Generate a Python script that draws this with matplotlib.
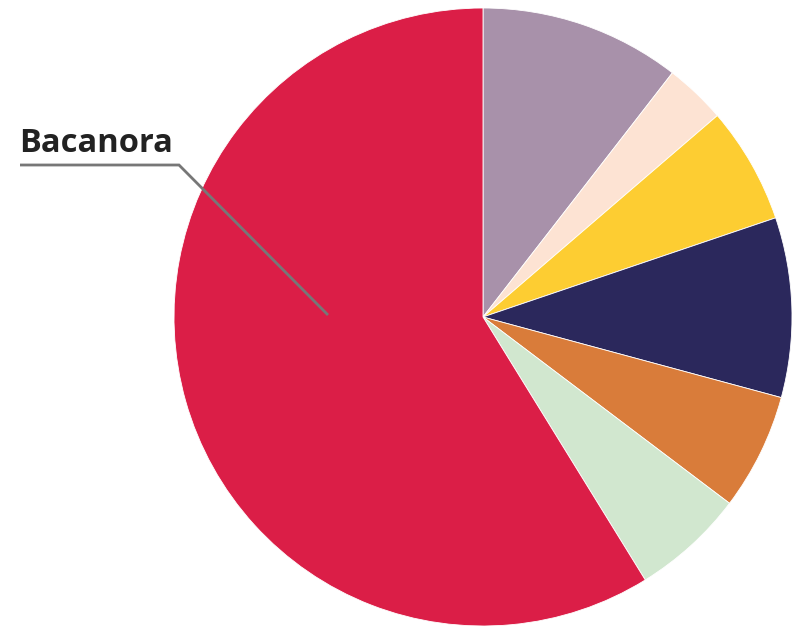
import matplotlib
matplotlib.use("Agg")
import matplotlib.pyplot as plt

categories = ["Cat A", "Cat B", "Cat C", "Cat D", "Cat E", "Cat F", "Bacanora"]
values = [10.5, 3.2, 6.1, 9.4, 6.1, 5.9, 58.8]
colors = ["#a891aa", "#fde3d3", "#fdcd32", "#2b285c", "#d97c3a", "#d1e7cf", "#db1e47"]
label_text = "Bacanora"

W, H = 793, 626
fig = plt.figure(figsize=(W / 100, H / 100), dpi=100)
ax = fig.add_axes([0, 0, 1, 1])
cx, cy, r = 483, H - 317, 309
ax.pie(values, colors=colors, startangle=90, counterclock=False,
       center=(cx, cy), radius=r,
       wedgeprops=dict(linewidth=0.6, edgecolor="white"))
ax.set_xlim(0, W)
ax.set_ylim(0, H)
ax.set_aspect("equal")
ax.axis("off")

# leader line
ax.plot([20, 179, 328], [H - 165, H - 165, H - 315], color="#777777", lw=2,
        solid_capstyle="butt", solid_joinstyle="miter")
ax.text(19, H - 144, label_text, fontsize=23.5, fontweight="bold", family=["Open Sans", "DejaVu Sans"],
        color="#222222", ha="left", va="center")

fig.savefig("out.png", dpi=100)
